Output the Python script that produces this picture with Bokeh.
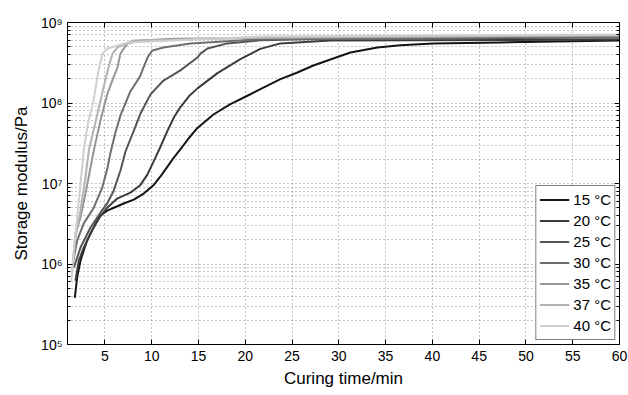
from bokeh.plotting import figure
from bokeh.models import (FixedTicker, LogAxis, LinearAxis, CustomJSTickFormatter,
                          Legend, LegendItem, Range1d)
from bokeh.embed import file_html
from bokeh.resources import INLINE

labels = ["15 °C", "20 °C", "25 °C", "30 °C", "35 °C", "37 °C", "40 °C"]
colors = ["#151515", "#3c3c3c", "#555555", "#6e6e6e", "#969696", "#b2b2b2", "#cfcfcf"]

t15 = [1.78, 2.04, 2.39, 2.74, 3.10, 3.81, 4.53, 5.24, 5.95, 7.01, 8.08, 9.15, 10.22, 11.0,
       11.65, 12.3, 13.0, 14.0, 14.89, 16.6, 18.41, 20.23, 21.94, 23.76, 25.57, 27.28, 29.1,
       31.24, 34.12, 36.58, 40.1, 47.26, 60.0]
g15 = [3.8e5, 6.9e5, 1.1e6, 1.47e6, 1.96e6, 2.87e6, 4.0e6, 4.6e6, 5.0e6, 5.65e6, 6.3e6, 7.5e6,
       9.6e6, 1.25e7, 1.6e7, 2.05e7, 2.6e7, 3.7e7, 4.9e7, 7.2e7, 9.7e7, 1.23e8, 1.55e8,
       1.98e8, 2.39e8, 2.92e8, 3.47e8, 4.24e8, 4.9e8, 5.2e8, 5.5e8, 5.65e8, 5.97e8]

t20 = [1.85, 2.21, 2.74, 3.46, 4.17, 5.24, 6.31, 7.73, 8.80, 9.52, 10.22, 10.9, 11.68, 12.4,
       13.07, 14.0, 14.89, 17.03, 19.48, 21.62, 23.76, 29.1, 60.0]
g20 = [6.2e5, 1.1e6, 1.6e6, 2.4e6, 3.47e6, 5.0e6, 6.5e6, 7.7e6, 9.6e6, 1.28e7, 1.9e7, 2.8e7,
       4.5e7, 6.7e7, 8.9e7, 1.22e8, 1.52e8, 2.35e8, 3.5e8, 4.7e8, 5.5e8, 5.97e8, 6.15e8]

t25 = [1.67, 2.39, 3.46, 4.53, 5.24, 5.95, 6.66, 7.20, 8.05, 8.80, 9.87, 11.26, 13.07, 14.46,
       14.89, 15.21, 15.96, 18.09, 21.62, 29.1, 60.0]
g25 = [9.0e5, 1.6e6, 2.84e6, 4.37e6, 5.65e6, 8.2e6, 1.45e7, 2.5e7, 4.4e7, 7.4e7, 1.28e8,
       1.9e8, 2.54e8, 3.37e8, 3.67e8, 4.1e8, 4.75e8, 5.5e8, 6.0e8, 6.3e8, 6.5e8]

t30 = [1.61, 2.04, 2.74, 3.81, 4.71, 5.24, 5.59, 6.1, 6.66, 7.73, 8.48, 8.80, 9.12, 9.55,
       10.08, 11.26, 14.14, 21.62, 60.0]
g30 = [1.1e6, 1.96e6, 3.2e6, 5.0e6, 8.9e6, 1.5e7, 2.4e7, 4.2e7, 7.0e7, 1.4e8, 1.9e8, 2.2e8,
       2.76e8, 3.67e8, 4.5e8, 4.9e8, 5.5e8, 6.2e8, 6.7e8]

t35 = [1.57, 1.85, 2.39, 2.92, 3.46, 3.81, 4.53, 5.27, 5.91, 6.34, 6.66, 7.41, 8.80, 12.32, 60.0]
g35 = [1.01e6, 2.4e6, 3.8e6, 7.5e6, 1.58e7, 2.57e7, 6.1e7, 1.31e8, 2.07e8, 2.76e8, 4.1e8,
       5.5e8, 5.97e8, 6.3e8, 6.9e8]

t37 = [1.50, 1.85, 2.39, 2.92, 3.28, 4.21, 4.85, 5.38, 5.81, 6.34, 8.05, 21.62, 60.0]
g37 = [8.3e5, 2.13e6, 4.6e6, 1.19e7, 2.57e7, 7.4e7, 1.56e8, 2.76e8, 4.1e8, 4.9e8, 5.97e8,
       6.5e8, 6.9e8]

t40 = [1.40, 1.67, 2.04, 2.39, 2.74, 3.14, 3.78, 4.31, 4.74, 5.27, 7.41, 21.62, 60.0]
g40 = [5.9e5, 1.47e6, 3.8e6, 1.0e7, 2.57e7, 5.25e7, 1.07e8, 2.54e8, 4.1e8, 4.75e8, 5.65e8,
       6.7e8, 7.1e8]

series_t = [t15, t20, t25, t30, t35, t37, t40]
series_g = [g15, g20, g25, g30, g35, g37, g40]

x_ticks = [5, 10, 15, 20, 25, 30, 35, 40, 45, 50, 55, 60]
y_ticks = [1e5, 1e6, 1e7, 1e8, 1e9]
y_minor = [m * d for d in [1e5, 1e6, 1e7, 1e8] for m in range(2, 10)]

FONT = "Liberation Sans"

p = figure(width=628, height=395, x_range=Range1d(1, 60), y_range=Range1d(1e5, 1e9),
           y_axis_type="log", output_backend="svg", toolbar_location=None,
           min_border_left=67, min_border_right=9, min_border_top=22, min_border_bottom=51)
p.outline_line_color = "black"
p.outline_line_width = 1
p.background_fill_color = "white"
p.border_fill_color = "white"

sup_js = """
const sup = {"0":"\u2070","1":"\u00b9","2":"\u00b2","3":"\u00b3","4":"\u2074","5":"\u2075",
             "6":"\u2076","7":"\u2077","8":"\u2078","9":"\u2079","-":"\u207b"};
const e = Math.round(Math.log10(tick));
return "10" + String(e).split("").map(c => sup[c]).join("");
"""

xt = FixedTicker(ticks=x_ticks)
yt = FixedTicker(ticks=y_ticks, minor_ticks=y_minor)

xa = p.xaxis[0]
xa.ticker = xt
ya = p.yaxis[0]
ya.ticker = yt
ya.formatter = CustomJSTickFormatter(code=sup_js)

for ax in (xa, ya):
    ax.major_tick_in = 5
    ax.major_tick_out = 0
    ax.minor_tick_in = 3
    ax.minor_tick_out = 0
    ax.axis_line_color = "black"
    ax.major_tick_line_color = "black"
    ax.minor_tick_line_color = "black"
    ax.major_label_text_font = FONT
    ax.major_label_text_font_size = "14px"
    ax.major_label_text_color = "black"
    ax.axis_label_text_font = FONT
    ax.axis_label_text_font_size = "17px"
    ax.axis_label_text_font_style = "normal"
    ax.axis_label_text_color = "black"
xa.minor_tick_line_color = None
xa.axis_label = "Curing time/min"
ya.axis_label = "Storage modulus/Pa"
xa.major_label_standoff = 6
xa.axis_label_standoff = 5
ya.major_label_standoff = 5
ya.axis_label_standoff = 7

# Mirror ticks on the top and right edges (no labels), as in a boxed plot
top = LinearAxis(ticker=FixedTicker(ticks=x_ticks), major_label_text_font_size="1px",
                 major_label_text_alpha=0.0,
                 major_tick_in=5, major_tick_out=0, minor_tick_line_color=None,
                 axis_line_color="black", major_label_standoff=0)
right = LogAxis(ticker=FixedTicker(ticks=y_ticks, minor_ticks=y_minor),
                major_label_text_font_size="1px", major_label_text_alpha=0.0,
                major_tick_in=5, major_tick_out=0,
                minor_tick_in=3, minor_tick_out=0, axis_line_color="black",
                major_label_standoff=0)
p.add_layout(top, "above")
p.add_layout(right, "right")

for g in (p.xgrid[0], p.ygrid[0]):
    g.grid_line_color = "#8a8a8a"
    g.grid_line_dash = "1 3"
    g.grid_line_width = 1
p.xgrid[0].ticker = xt
p.ygrid[0].ticker = yt
p.ygrid[0].minor_grid_line_color = "#8a8a8a"
p.ygrid[0].minor_grid_line_dash = "1 3"
p.ygrid[0].minor_grid_line_width = 1

items = []
for lab, col, t, g in zip(labels, colors, series_t, series_g):
    r = p.line(t, g, line_color=col, line_width=2)
    items.append(LegendItem(label=lab, renderers=[r]))

leg = Legend(items=items, location="bottom_right", orientation="vertical",
             label_text_font=FONT, label_text_font_size="15px", label_text_color="black",
             glyph_width=30, glyph_height=21, label_height=21, label_standoff=4,
             spacing=0, padding=3, margin=4,
             border_line_color="black", border_line_width=1,
             background_fill_color="white", background_fill_alpha=1.0)
p.add_layout(leg, "center")

open("out.html", "w").write(file_html(p, INLINE))
